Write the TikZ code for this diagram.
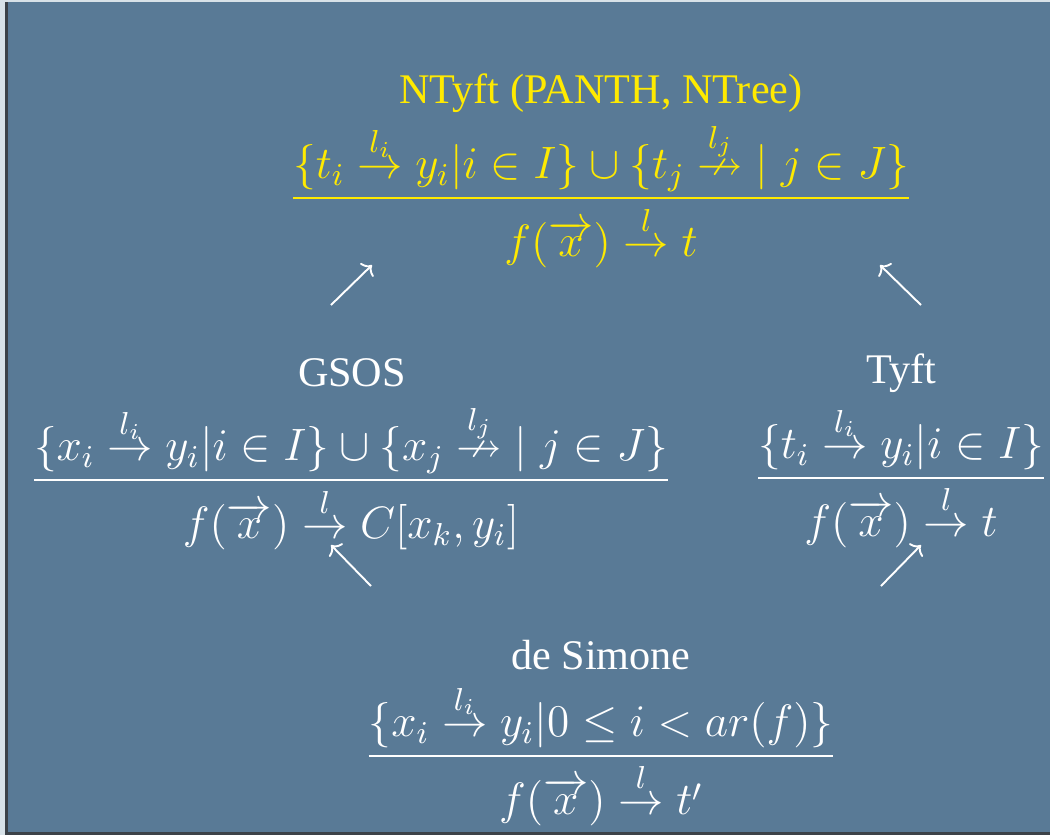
\RequirePackage{fix-cm}
\documentclass[tikz,border=0pt]{standalone}
\usepackage{amsmath,amssymb}
\usepackage{fontspec}
\newfontfamily\titlefont{Liberation Serif}
\usetikzlibrary{arrows.meta,positioning}
\definecolor{slide}{RGB}{89,122,150}
\definecolor{backdrop}{RGB}{216,226,232}
\definecolor{rim}{RGB}{60,66,72}
\definecolor{hilite}{RGB}{255,234,0}
\newcommand{\vecx}{\overrightarrow{\,x\,}}
\newcommand{\lto}[1]{\stackrel{#1}{\rightarrow}}
\newcommand{\lnto}[1]{\stackrel{#1}{\nrightarrow}}
\tikzset{rulename/.style={text=white,inner sep=0pt,font=\titlefont\fontsize{12}{14}\selectfont},
         ruleform/.style={text=white,inner sep=0pt,font=\fontsize{12.9}{15}\selectfont},
         upar/.style={draw=white,line width=0.55pt,-{Computer Modern Rightarrow[length=0.8mm,width=1.9mm]}}}

\begin{document}
\begin{tikzpicture}[x=0.01cm,y=-0.01cm]
  \useasboundingbox (0,0) rectangle (1050,835);
  \fill[backdrop] (0,0) rectangle (1050,835);
  \fill[slide] (6,2) rectangle (1050,833);
  \draw[rim,line width=0.6pt] (6.5,2) -- (6.5,833.5) -- (1050,833.5);
  % the four rule formats
  \node[rulename,text=hilite] (ntyft) at (601,93) {NTyft (PANTH, NTree)};
  \node[ruleform,text=hilite] (ntyftrule) at (601,195)
    {$\dfrac{\{t_i \lto{l_i} y_i | i \in I\} \cup \{t_j \lnto{l_j}\;\mid j \in J\}}{f(\vecx) \lto{l} t}$};
  \node[rulename] (gsos) at (352,373) {GSOS};
  \node[ruleform] (gsosrule) at (351,477)
    {$\dfrac{\{x_i \lto{l_i} y_i | i \in I\} \cup \{x_j \lnto{l_j}\;\mid j \in J\}}{f(\vecx) \lto{l} C[x_k,y_i]}$};
  \node[rulename] (tyft) at (901,373) {Tyft};
  \node[ruleform] (tyftrule) at (901,477)
    {$\dfrac{\{t_i \lto{l_i} y_i | i \in I\}}{f(\vecx) \lto{l} t}$};
  \node[rulename] (simone) at (601,655) {de Simone};
  \node[ruleform] (simonerule) at (601,755)
    {$\dfrac{\{x_i \lto{l_i} y_i | 0 \leq i < ar(f)\}}{f(\vecx) \lto{l} t'}$};
  % arrows between them
  \coordinate (gsosup) at (331,305);
  \coordinate (gsostip) at (372,265);
  \coordinate (tyftup) at (921,305);
  \coordinate (tyfttip) at (880,265);
  \coordinate (simleft) at (371,586);
  \coordinate (simlefttip) at (331,545);
  \coordinate (simright) at (881,586);
  \coordinate (simrighttip) at (921,545);
  \draw[upar] (gsosup) -- (gsostip);
  \draw[upar] (tyftup) -- (tyfttip);
  \draw[upar] (simleft) -- (simlefttip);
  \draw[upar] (simright) -- (simrighttip);
\end{tikzpicture}
\end{document}
